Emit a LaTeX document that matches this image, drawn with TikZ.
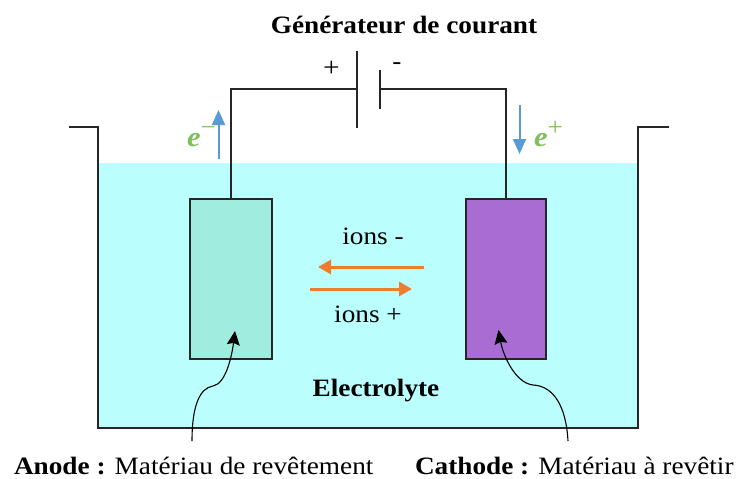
\documentclass[tikz,border=0pt]{standalone}
\usepackage{fontspec}
\setmainfont[FakeStretch=1.09]{Liberation Serif}
\usepackage{tikz}
\usetikzlibrary{arrows,arrows.meta,positioning}
\definecolor{bath}{HTML}{BBFEFE}
\definecolor{anodefill}{HTML}{A0ECDE}
\definecolor{cathodefill}{HTML}{A86CD2}
\definecolor{flowblue}{HTML}{5B9BD5}
\definecolor{flowgreen}{HTML}{7FBF5A}
\definecolor{ionorange}{HTML}{ED7D31}
\definecolor{wirecol}{HTML}{262626}
\newcommand{\chargetxt}[1]{\textbf{\textit{e}}\raisebox{11pt}{\fontsize{25}{26}\selectfont #1}}

\begin{document}
\begin{tikzpicture}[x=1pt,y=-1pt,>=stealth',font=\fontsize{25}{27}\selectfont]
  \tikzstyle{every node}=[inner sep=0pt,outer sep=0pt]
  \tikzstyle{electrode}=[draw=wirecol,line width=1.6pt,minimum height=160pt]
  \tikzstyle{wire}=[draw=wirecol,line width=1.6pt]
  \tikzstyle{charge}=[anchor=base west,text=flowgreen,font=\fontsize{28}{30}\selectfont]
  \tikzstyle{flow}=[->,flowblue,line width=2pt,>={Stealth[length=15pt,width=13pt,inset=0pt]}]
  \tikzstyle{ionflow}=[->,ionorange,line width=3pt,>={Stealth[length=13pt,width=14pt,inset=0pt]}]
  \tikzstyle{pointer}=[->,black,line width=1.1pt,>={Stealth[length=14pt,width=13pt,inset=2pt]}]
  \useasboundingbox (0,0) rectangle (736,479);

  % bain
  \fill[bath] (98,163) rectangle (638,428);
  \draw[wire] (69,127) -- (98,127) -- (98,428) -- (638,428) -- (638,127) -- (669,127);

  \node[electrode,fill=anodefill,minimum width=82pt] (anode) at (231,279) {};
  \node[electrode,fill=cathodefill,minimum width=80pt] (cathode) at (506,279) {};

  % generateur
  \coordinate (plustop) at (357,51);
  \coordinate (plusbot) at (357,128);
  \coordinate (plusmid) at (357,89);
  \coordinate (minustop) at (380,70);
  \coordinate (minusbot) at (380,109);
  \coordinate (minusmid) at (380,89);
  \draw[wire] (plustop) -- (plusbot);
  \draw[wire] (minustop) -- (minusbot);
  \draw[wire] (anode.north) |- (plusmid);
  \draw[wire] (cathode.north) |- (minusmid);

  \node (title) at (404,25) {\bfseries Générateur de courant};
  \node (plus) at (331.5,69) {\fontsize{27}{29}\selectfont +};
  \node (minus) at (397,66) {-};

  % electrons
  \coordinate (eupa) at (218.5,159);
  \coordinate (eupb) at (218.5,110);
  \coordinate (edowna) at (519.5,105);
  \coordinate (edownb) at (519.5,154);
  \draw[flow] (eupa) -- (eupb);
  \draw[flow] (edowna) -- (edownb);
  \node[charge] (eminus) at (187,146) {\chargetxt{−}};
  \node[charge] (eplus) at (534,146) {\chargetxt{+}};

  % ions
  \node (ionsm) at (373,236) {ions -};
  \node (ionsp) at (368,314) {ions +};
  \coordinate (leftA) at (424,267);
  \coordinate (leftB) at (318,267);
  \coordinate (rightA) at (310,289);
  \coordinate (rightB) at (412,289);
  \draw[ionflow] (leftA) -- (leftB);
  \draw[ionflow] (rightA) -- (rightB);

  \node (bathlabel) at (376,391) {\bfseries Electrolyte};

  % legendes
  \node[anchor=base west] (anodetext) at (14,474) {\textbf{Anode :} Matériau de revêtement};
  \node[anchor=base west] (cathodetext) at (415,474) {\textbf{Cathode :} Matériau à revêtir};
  \coordinate (anodefrom) at (192,441);
  \coordinate (anodetip) at (235,331);
  \coordinate (cathodefrom) at (568,441);
  \coordinate (cathodetip) at (498.5,330);
  \draw[pointer] (anodefrom) .. controls (192,405) and (200,388) .. (213,386)
                 .. controls (226,384) and (232,355) .. (anodetip);
  \draw[pointer] (cathodefrom) .. controls (566,405) and (553,386) .. (533,385)
                 .. controls (515,383) and (503,355) .. (cathodetip);
\end{tikzpicture}
\end{document}
